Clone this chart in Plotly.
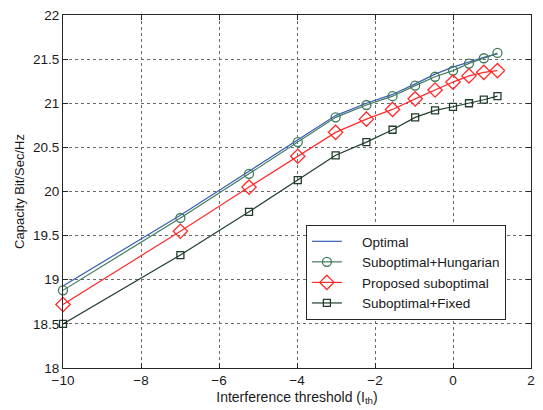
import plotly.graph_objects as go

# Interference threshold in dB
x_ith = [-10, -6.99, -5.23, -3.98, -3.01, -2.22, -1.55, -0.97, -0.46, 0.0, 0.41, 0.79, 1.14]

optimal = [18.93, 19.73, 20.23, 20.58, 20.86, 21.00, 21.10, 21.22, 21.33, 21.41, 21.47, 21.52, 21.56]
hungarian = [18.88, 19.70, 20.20, 20.56, 20.84, 20.98, 21.08, 21.20, 21.30, 21.37, 21.45, 21.51, 21.57]
proposed = [18.72, 19.55, 20.05, 20.40, 20.67, 20.82, 20.93, 21.05, 21.15, 21.24, 21.31, 21.35, 21.37]
fixed = [18.50, 19.28, 19.77, 20.13, 20.41, 20.56, 20.70, 20.84, 20.92, 20.96, 21.00, 21.04, 21.08]

names = ["Optimal", "Suboptimal+Hungarian", "Proposed suboptimal", "Suboptimal+Fixed"]
colors = ["#3a5fb8", "#3f7a5a", "#ff2a2a", "#223d2c"]

x_ticks = [-10, -8, -6, -4, -2, 0, 2]
y_ticks = [18, 18.5, 19, 19.5, 20, 20.5, 21, 21.5, 22]

pad = "\u00a0" * 4  # spacing between legend symbol and label

fig = go.Figure()
fig.add_trace(go.Scatter(x=x_ith, y=optimal, mode="lines", name=pad + names[0], cliponaxis=False,
                         line=dict(color=colors[0], width=1.2)))
fig.add_trace(go.Scatter(x=x_ith, y=hungarian, mode="lines+markers", name=pad + names[1], cliponaxis=False,
                         line=dict(color=colors[1], width=1.2),
                         marker=dict(symbol="circle-open", size=9, color=colors[1],
                                     line=dict(width=1.3, color=colors[1]))))
fig.add_trace(go.Scatter(x=x_ith, y=proposed, mode="lines+markers", name=pad + names[2], cliponaxis=False,
                         line=dict(color=colors[2], width=1.2),
                         marker=dict(symbol="diamond-open", size=11, color=colors[2],
                                     line=dict(width=1.3, color=colors[2]))))
fig.add_trace(go.Scatter(x=x_ith, y=fixed, mode="lines+markers", name=pad + names[3], cliponaxis=False,
                         line=dict(color=colors[3], width=1.2),
                         marker=dict(symbol="square-open", size=7, color=colors[3],
                                     line=dict(width=1.3, color=colors[3]))))

axis_common = dict(
    showline=True, linecolor="#262626", linewidth=1, mirror="allticks",
    ticks="inside", ticklen=5, tickcolor="#262626",
    showgrid=True, gridcolor="#6a6a6a", griddash="dot", gridwidth=1,
    zeroline=False, tickfont=dict(family="Liberation Sans, Arial", size=13.5, color="#1a1a1a"),
)

fig.update_layout(
    width=543, height=410,
    margin=dict(l=63, r=8, t=14, b=38),
    paper_bgcolor="white", plot_bgcolor="white",
    font=dict(family="Liberation Sans, Arial", size=13, color="#1a1a1a"),
    xaxis=dict(range=[-10, 2], tickvals=x_ticks, ticktext=["\u221210", "\u22128", "\u22126", "\u22124", "\u22122", "0", "2"],
               title=dict(text="Interference threshold (I<sub>th</sub>)", standoff=4,
                          font=dict(size=14)),
               **axis_common),
    yaxis=dict(range=[18, 22], tickvals=y_ticks,
               ticktext=["18", "18.5", "19", "19.5", "20", "20.5", "21", "21.5", "22"],
               title=dict(text="Capacity Bit/Sec/Hz", standoff=5, font=dict(size=13)),
               **axis_common),
    legend=dict(x=0.519, y=0.405, xanchor="left", yanchor="top",
                bgcolor="white", bordercolor="#262626", borderwidth=1,
                font=dict(size=13.5), tracegroupgap=0),
    showlegend=True,
)

fig.write_html("out.html")
